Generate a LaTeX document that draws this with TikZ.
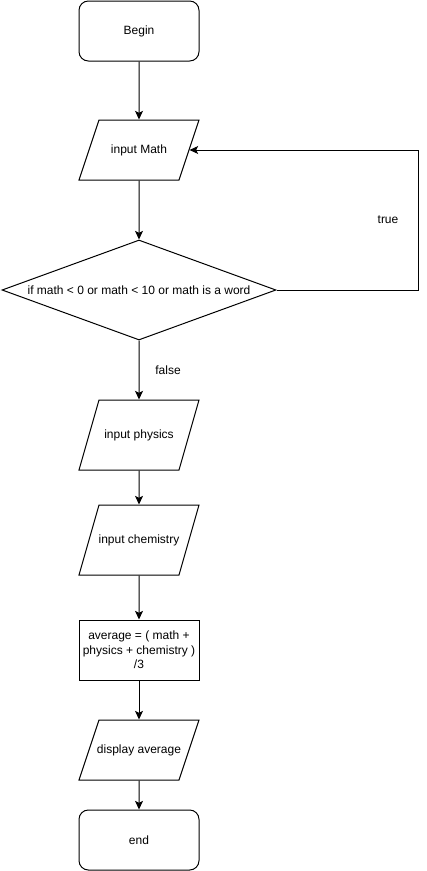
\documentclass[tikz,border=0pt]{standalone}
\usepackage{fontspec}
\setmainfont{Liberation Sans}
\usetikzlibrary{shapes.geometric,arrows.meta,calc}

\tikzset{
	box/.style={draw, line width=0.75pt, minimum width=90pt, minimum height=45pt, inner sep=2pt, align=center},
	terminal/.style={box, rounded corners=7pt},
	io/.style={box, trapezium, trapezium stretches body=true, text height=6.5pt, text depth=2pt, inner xsep=-15pt, inner ysep=18.25pt, trapezium left angle=71.57, trapezium right angle=108.43},
	iotall/.style={io, minimum height=52.5pt, inner ysep=22pt, trapezium left angle=74.05, trapezium right angle=105.95},
	decision/.style={draw, line width=0.75pt, diamond, shape aspect=2.74, minimum width=205.5pt, minimum height=75pt, inner sep=0pt},
	flow/.style={line width=0.75pt, -{Stealth[length=6.5pt,width=6pt,inset=1.5pt]}}
}

\begin{document}
\begin{tikzpicture}[x=0.75pt,y=0.75pt,yscale=-1,xscale=1,font=\fontsize{9pt}{11pt}\selectfont]
	\path (0,0) rectangle (427,871); %keep the page at 427 by 871

	\node [terminal] (begin) at (139,31) {Begin};
	\node [io] (math) at (139,150) {input Math};
	\node [decision] (cond) at (139,290) {if math < 0 or math < 10 or math is a word};
	\node [iotall] (phys) at (139,435) {input physics};
	\node [iotall] (chem) at (139,540) {input chemistry};
	\node [box] (avg) at (139,650) {average = ( math +\\physics + chemistry )\\/3};
	\node [io] (disp) at (139,750) {display average};
	\node [terminal] (end) at (139,840) {end};
	\coordinate (loop) at (418,290);

	\draw [flow] (begin) -- (math);
	\draw [flow] (math) -- (cond);
	\draw [flow] (cond) -- (phys);
	\draw [flow] (phys) -- (chem);
	\draw [flow] (chem) -- (avg);
	\draw [flow] (avg) -- (disp);
	\draw [flow] (disp) -- (end);
	\draw [flow] (cond.east) -- (loop) |- (math.east);

	\node (true) at (388,220) {true};
	\node (false) at (168,370) {false};
\end{tikzpicture}
\end{document}
